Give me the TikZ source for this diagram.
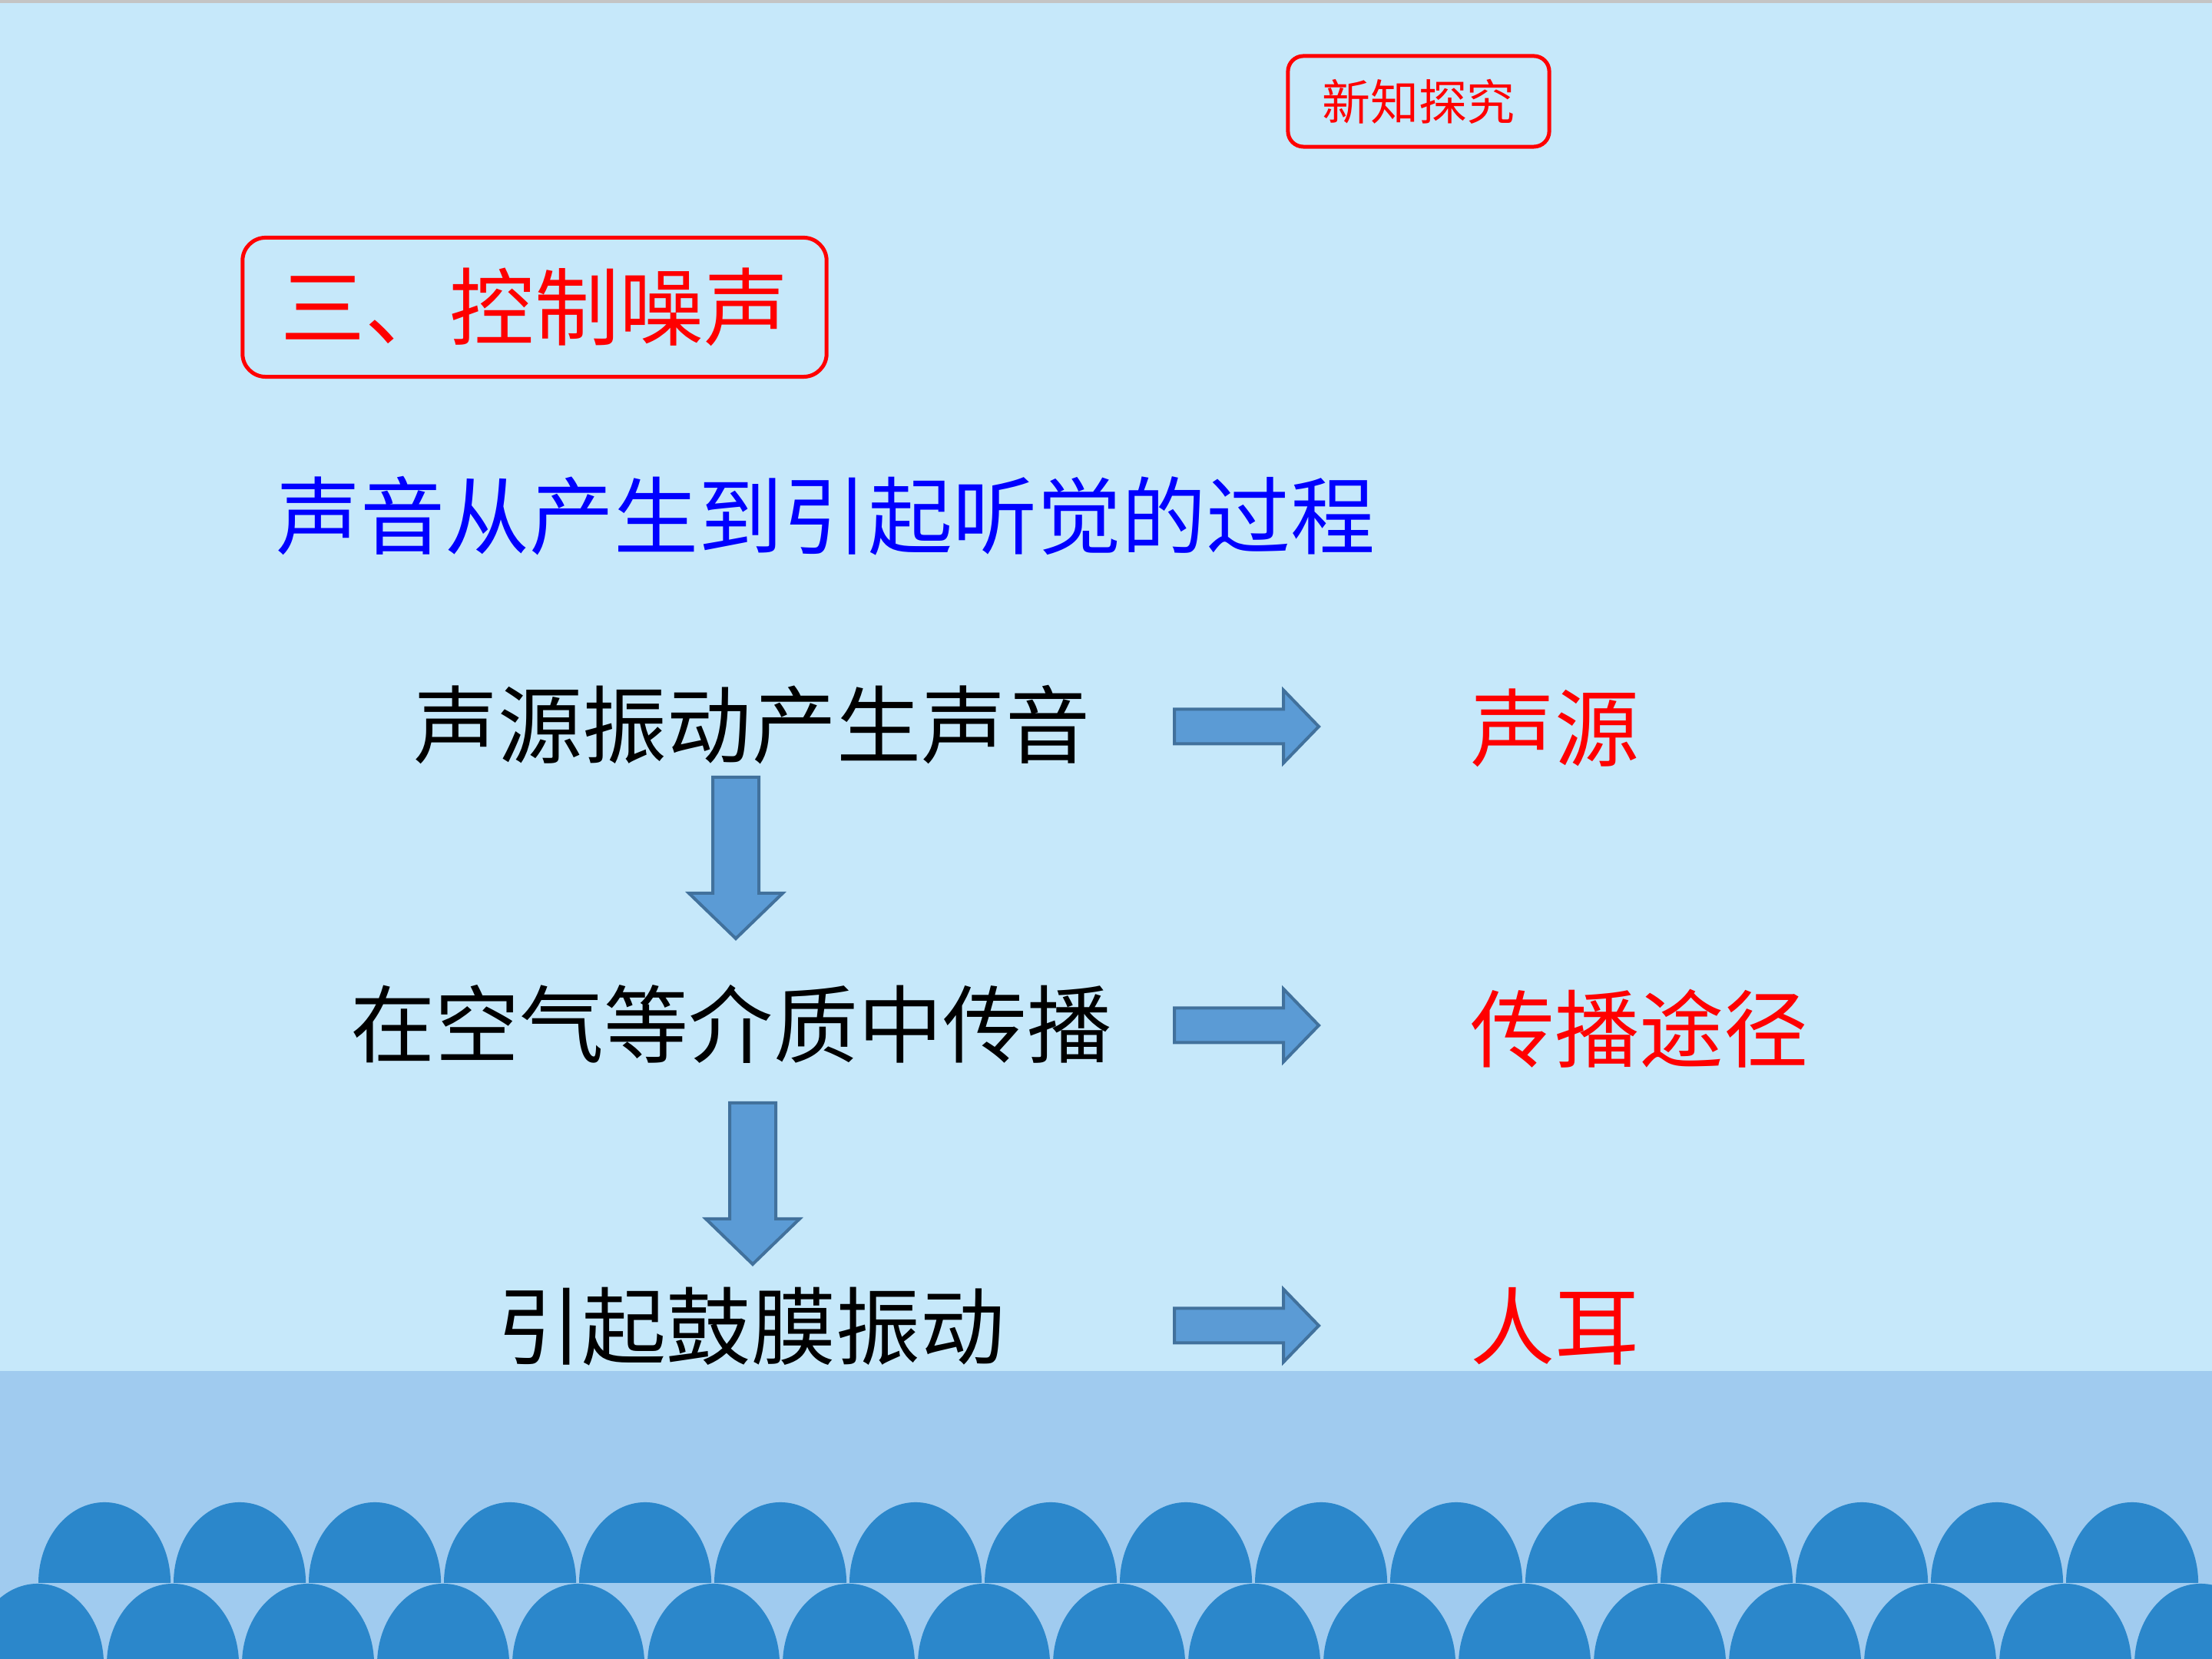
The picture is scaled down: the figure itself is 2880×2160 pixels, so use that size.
\documentclass[tikz,border=0pt]{standalone}
\usepackage{fontspec}
\newfontfamily\cjk{Noto Sans CJK SC}
\usetikzlibrary{positioning,calc}
\definecolor{bgsky}{RGB}{198,232,250}
\definecolor{seaband}{RGB}{160,203,239}
\definecolor{wave}{RGB}{43,135,203}
\definecolor{arrfill}{RGB}{91,155,213}
\definecolor{arrline}{RGB}{65,113,156}
\definecolor{edgegray}{RGB}{196,196,196}
\tikzset{
  redbox/.style={draw=red, line width=0.05cm, rounded corners=0.3cm,
                 text=red, inner sep=0pt},
  bigtxt/.style={font=\cjk\fontsize{31.3pt}{36pt}\selectfont, inner sep=0pt},
  blockarr/.style={fill=arrfill, draw=arrline, line width=0.04cm, line join=miter},
}
% block arrows, tail given by a named coordinate
\newcommand\rblock[1]{\draw[blockarr] (#1) ++(0,22.5) -- ++(142,0) -- ++(0,25)
  -- ++(46,-47.5) -- ++(-46,-47.5) -- ++(0,25) -- ++(-142,0) -- cycle;}
\newcommand\dblock[1]{\draw[blockarr] (#1) ++(-30,0) -- ++(60,0) -- ++(0,-151)
  -- ++(31,0) -- ++(-61,-59) -- ++(-61,59) -- ++(31,0) -- cycle;}

\begin{document}
\begin{tikzpicture}[x=0.01cm, y=0.01cm]
    \clip (0,0) rectangle (2880,2160);
    \fill[bgsky] (0,0) rectangle (2880,2160);
    \fill[edgegray] (0,2156) rectangle (2880,2160);
    \fill[seaband] (0,0) rectangle (2880,375);
    % waves
    \foreach \k in {0,...,15}
      \fill[wave] ({136+176*\k-86},99) arc[start angle=180, end angle=0,
        x radius=0.86cm, y radius=1.05cm] -- cycle;
    \foreach \k in {0,...,16}
      \fill[wave] ({49+176*\k-86},-7) arc[start angle=180, end angle=0,
        x radius=0.86cm, y radius=1.05cm] -- cycle;

    \node[redbox, minimum width=3.4cm, minimum height=1.18cm, rounded corners=0.2cm,
          font=\cjk\fontsize{17.9pt}{20pt}\selectfont] (tag) at (1847,2028) {新知探究};
    \node[redbox, bigtxt, minimum width=7.6cm, minimum height=1.81cm] (sec) at (696,1760)
      {三、控制噪声};
    \node[bigtxt, text=blue] (lead) at (1075,1488) {声音从产生到引起听觉的过程};

    \node[bigtxt] (s1) at (979,1216) {声源振动产生声音};
    \node[bigtxt] (s2) at (952,827) {在空气等介质中传播};
    \node[bigtxt] (s3) at (978,433) {引起鼓膜振动};

    \node[bigtxt, text=red, anchor=west] (t1) at (1914,1212) {声源};
    \node[bigtxt, text=red, anchor=west] (t2) at (1914,821) {传播途径};
    \node[bigtxt, text=red, anchor=west] (t3) at (1914,433) {人耳};

    \coordinate (r1) at (1529,1214);
    \coordinate (r2) at (1529,825);
    \coordinate (r3) at (1529,434);
    \coordinate (d1) at (958,1148);
    \coordinate (d2) at (980,724);
    \rblock{r1} \rblock{r2} \rblock{r3}
    \dblock{d1} \dblock{d2}
\end{tikzpicture}
\end{document}
